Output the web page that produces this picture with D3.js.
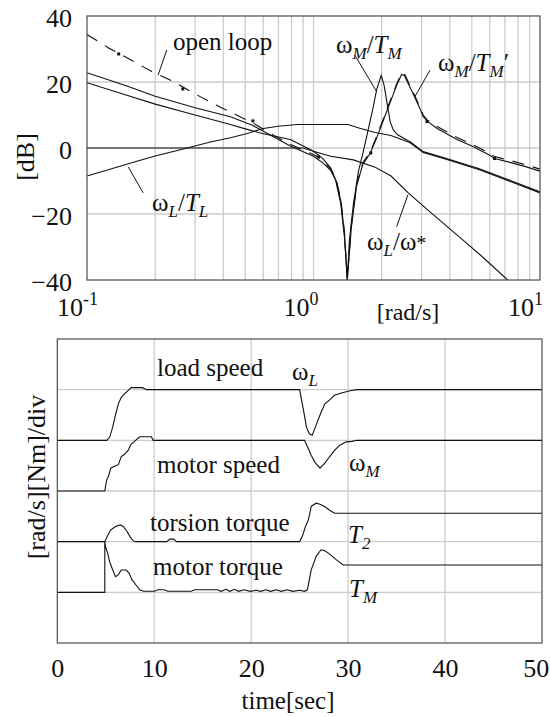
<!DOCTYPE html>
<html>
<head>
<meta charset="utf-8">
<script src="https://cdn.jsdelivr.net/npm/d3@7"></script>
<style>
body { margin: 0; background: #fff; }
svg { display: block; }
</style>
</head>
<body>
<script>
// frequency responses, [rad/s, dB]
var openLoop = [[0.1, 34.4], [0.124, 30.4], [0.155, 26.8], [0.193, 23.2], [0.24, 20.2], [0.294, 16.7], [0.367, 13.2], [0.45, 10.2], [0.54, 7.6], [0.65, 4.3], [0.79, 1.1], [1.0, -2], [1.05, -2.8], [1.1, -4], [1.19, -6.3], [1.26, -9.5], [1.32, -15.5], [1.37, -25.5], [1.41, -39.5], [1.47, -23.5], [1.55, -11], [1.65, -4.5], [1.78, -1.2], [1.9, 3.5], [2.05, 9.5], [2.2, 15], [2.33, 19.5], [2.45, 22.8], [2.52, 22.5], [2.6, 20.5], [2.75, 17], [2.95, 12.5], [3.05, 10], [3.17, 8.6], [3.5, 6.6], [4.3, 3.2], [5, 1.2], [6, -1.6], [6.3, -2.6], [7.5, -3.9], [8.5, -4.9], [10, -6.4]];
var wmTmPrime = [[0.1, 22.8], [0.15, 18.8], [0.2, 15.7], [0.3, 12.2], [0.43, 9.5], [0.54, 6.8], [0.65, 3.8], [0.79, 0.6], [1.0, -2.5], [1.1, -4.5], [1.19, -6.8], [1.26, -10], [1.32, -16], [1.37, -26], [1.41, -40], [1.47, -24], [1.55, -11.5], [1.65, -5], [1.78, -1.6], [1.9, 3], [2.05, 9], [2.2, 14.5], [2.33, 19], [2.45, 22.3], [2.52, 22], [2.6, 20], [2.75, 16.5], [2.95, 12], [3.05, 9.5], [3.2, 8], [3.5, 6], [4.3, 2.6], [5, 0.6], [6, -2.2], [6.3, -3.2], [7.5, -4.5], [8.5, -5.5], [10, -7]];
var wmTm = [[0.1, 19.8], [0.15, 16], [0.2, 13.3], [0.3, 10], [0.43, 7.1], [0.5, 5.8], [0.6, 4.3], [0.79, 2.6], [1.0, -1], [1.1, -3.2], [1.19, -6], [1.25, -9.5], [1.32, -17], [1.37, -27], [1.41, -40], [1.44, -28], [1.5, -17], [1.58, -7], [1.66, -1], [1.75, 6], [1.83, 12], [1.9, 17.7], [1.99, 22], [2.05, 19], [2.12, 13], [2.18, 8], [2.25, 5.5], [2.35, 4], [2.67, 1.9], [3.05, -1.1], [3.9, -3.3], [5.4, -6.3], [7.5, -10], [10, -13.3]];
var wlTl = [[0.1, -8.5], [0.166, -4], [0.2, -2.4], [0.277, 0], [0.35, 1.8], [0.43, 3.1], [0.51, 4.4], [0.6, 5.9], [0.7, 6.6], [0.85, 7.1], [1.42, 7.1], [1.6, 6], [1.87, 4.7], [2.2, 3.8], [2.67, 1.6], [3.05, -1.4], [3.88, -3.5], [5.4, -6.6], [7.5, -10.3], [10, -13.6]];
var wlWref = [[0.1, 0], [0.9, 0], [1.0, -1], [1.19, -2.5], [1.5, -3.6], [1.87, -5.8], [2.2, -8.5], [2.62, -13.6], [3.1, -18], [4.36, -26.7], [5.53, -32.8], [7.2, -40]];
var openLoopMarks = [[0.138, 28.5], [0.265, 17.9], [0.54, 8.2], [1.05, -2.7], [1.79, -1.5], [3.17, 8], [6.3, -3.2]];
var dbTicks = [40, 20, 0, -20, -40];
var decadeTicks = [0.1, 1, 10];
var decadeExp = ["-1", "0", "1"];

// step responses, [sec, div above the trace's own base line]
var loadSpeed = [[0, 0], [5.1, 0], [5.4, 0.06], [5.7, 0.25], [6.0, 0.5], [6.3, 0.72], [6.6, 0.85], [7.0, 0.93], [7.3, 0.98], [7.6, 1.04], [8.8, 1.04], [9.2, 1.0], [25.0, 1.0], [25.4, 0.59], [25.7, 0.26], [26.0, 0.13], [26.3, 0.1], [26.6, 0.25], [26.9, 0.4], [27.2, 0.55], [27.6, 0.72], [28.1, 0.8], [28.6, 0.89], [29.2, 0.93], [29.8, 0.96], [30.2, 0.98], [30.9, 1.0], [50, 1.0]];
var motorSpeed = [[0, 0], [4.9, 0], [5.0, 0.12], [5.1, 0.22], [5.3, 0.3], [5.5, 0.45], [6.0, 0.5], [6.3, 0.52], [6.6, 0.68], [6.9, 0.72], [7.3, 0.8], [7.6, 0.92], [7.9, 0.97], [8.5, 1.07], [9.7, 1.07], [9.9, 1.0], [25.5, 1.0], [25.8, 0.88], [26.2, 0.7], [26.6, 0.56], [27.1, 0.45], [27.6, 0.55], [28.1, 0.68], [28.6, 0.8], [29.1, 0.9], [29.8, 0.97], [30.4, 0.98], [30.9, 1.0], [50, 1.0]];
var torsionTorque = [[0, 0], [4.9, 0], [5.2, 0.12], [5.5, 0.23], [6.0, 0.3], [6.5, 0.33], [6.8, 0.3], [7.2, 0.2], [7.5, 0.1], [7.8, 0.02], [8.1, 0], [11.3, 0], [11.6, 0.05], [12.0, 0.05], [12.3, 0], [25.0, 0], [25.3, 0.12], [25.6, 0.3], [25.9, 0.43], [26.2, 0.7], [26.7, 0.76], [27.1, 0.74], [27.6, 0.69], [28.1, 0.62], [28.6, 0.56], [50, 0.56]];
var motorTorque = [[0, 0], [4.9, 0], [4.9, 1.0], [5.0, 0.88], [5.2, 0.77], [5.4, 0.6], [5.6, 0.5], [6.0, 0.31], [6.3, 0.35], [6.6, 0.44], [7.1, 0.44], [7.4, 0.38], [7.7, 0.25], [8.1, 0.15], [8.5, 0.05], [8.9, 0.02], [10.0, 0.02], [10.4, 0.05], [11.0, 0.05], [11.4, 0.02], [13.8, 0.02], [14.2, 0.05], [16.5, 0.05], [16.9, 0.02], [17.4, 0.06], [17.8, 0.02], [18.3, 0.06], [18.7, 0.02], [19.3, 0.05], [19.9, 0.02], [20.5, 0.04], [21, 0.02], [21.5, 0.05], [22, 0.02], [22.6, 0.05], [23.1, 0.02], [23.7, 0.05], [24.3, 0.02], [25, 0.04], [25.5, 0.02], [25.8, 0.05], [26.0, 0.25], [26.2, 0.45], [26.5, 0.6], [26.7, 0.71], [27.2, 0.84], [27.6, 0.82], [28.0, 0.77], [28.8, 0.64], [29.5, 0.54], [50, 0.54]];
var timeTicks = [0, 10, 20, 30, 40, 50];

var gridColor = "#cdcdcd", ink = "#111";
var serif = "Liberation Serif, DejaVu Serif, serif";

var svg = d3.select("body").append("svg").attr("width", 550).attr("height", 717)
  .attr("font-family", serif);

// ---------- upper panel: gain plot ----------
var x = d3.scaleLog().domain([0.1, 10]).range([87, 540]);
var y = d3.scaleLinear().domain([-40, 40]).range([280, 16]);
var upper = svg.append("g");

upper.append("clipPath").attr("id", "clipTop").append("rect")
  .attr("x", 87).attr("y", 16).attr("width", 453).attr("height", 264);

upper.selectAll(".vgrid").data(x.ticks().filter(function (d) { return d > 0.11 && d < 9.9; }))
  .enter().append("line")
  .attr("x1", function (d) { return x(d); }).attr("x2", function (d) { return x(d); })
  .attr("y1", 16).attr("y2", 280)
  .attr("stroke", gridColor).attr("stroke-width", 1.3);
upper.selectAll(".hgrid").data(dbTicks.slice(1, 4)).enter().append("line")
  .attr("x1", 87).attr("x2", 540)
  .attr("y1", function (d) { return y(d); }).attr("y2", function (d) { return y(d); })
  .attr("stroke", gridColor).attr("stroke-width", 1.3);

var yAxis = d3.axisLeft(y).tickValues(dbTicks).tickSize(0).tickPadding(15);
upper.append("g").attr("transform", "translate(87,0)").call(yAxis)
  .attr("font-size", 26).attr("font-family", serif)
  .call(function (g) { g.select(".domain").remove(); })
  .selectAll("text").attr("dy", "0.42em").attr("fill", ink);

// decade labels 10^n, the base sits just left of its grid line
upper.selectAll(".xlab").data(decadeTicks).enter().append("text")
  .attr("x", function (d, i) { return x(d) - (i === 2 ? 32 : 30); }).attr("y", 316)
  .attr("font-size", 26).attr("fill", ink)
  .each(function (d, i) {
    var t = d3.select(this);
    t.append("tspan").text("10");
    t.append("tspan").attr("font-size", 18).attr("dy", -11).text(decadeExp[i]);
  });

upper.append("text").attr("x", 408).attr("y", 320).attr("text-anchor", "middle")
  .attr("font-size", 24).attr("fill", ink).text("[rad/s]");
upper.append("text").attr("transform", "translate(34,157) rotate(-90)").attr("text-anchor", "middle")
  .attr("font-size", 26).attr("fill", ink).text("[dB]");

var gain = d3.line().x(function (d) { return x(d[0]); }).y(function (d) { return y(d[1]); });
var curves = upper.append("g").attr("clip-path", "url(#clipTop)")
  .attr("fill", "none").attr("stroke", ink).attr("stroke-width", 1.1);
curves.append("path").attr("d", gain(wlWref));
curves.append("path").attr("d", gain(wlTl));
curves.append("path").attr("d", gain(wmTm));
curves.append("path").attr("d", gain(wmTmPrime));
curves.append("path").attr("d", gain(openLoop)).attr("stroke-dasharray", "12,9");

upper.selectAll(".mark").data(openLoopMarks).enter().append("rect")
  .attr("x", function (d) { return x(d[0]) - 1.5; }).attr("y", function (d) { return y(d[1]) - 1.5; })
  .attr("width", 3).attr("height", 3).attr("fill", ink);

upper.append("rect").attr("x", 87).attr("y", 16).attr("width", 453).attr("height", 264)
  .attr("fill", "none").attr("stroke", "#4d4d4d").attr("stroke-width", 1.2);

// leader lines, ends given as [rad/s, dB]
var leaders = [
  [[0.225, 29.7], [0.206, 22.1]],
  [[1.52, 28.2], [1.9, 17.1]],
  [[3.27, 23.6], [2.8, 15.5]],
  [[0.152, -5.7], [0.177, -13.6]],
  [[2.61, -14.2], [2.33, -23.8]]
];
upper.selectAll(".leader").data(leaders).enter().append("path")
  .attr("d", gain).attr("fill", "none").attr("stroke", ink).attr("stroke-width", 1);

function mathLabel(g, px, py, parts, size) {
  var t = g.append("text").attr("x", px).attr("y", py).attr("font-size", size).attr("fill", ink);
  parts.forEach(function (p) {
    var s = t.append("tspan").text(p[0]);
    if (p[1] === "sub") s.attr("y", py + 6).attr("font-size", size * 0.68).attr("font-style", "italic");
    else if (p[1] === "it") s.attr("y", py).attr("font-style", "italic");
    else if (p[1] === "small") s.attr("y", py).attr("font-size", size * 0.8);
    else s.attr("y", py);
  });
  return t;
}

upper.append("text").attr("x", 173).attr("y", 50).attr("font-size", 25).attr("fill", ink).text("open loop");
mathLabel(upper, 336, 53, [["ω"], ["M", "sub"], ["/"], ["T", "it"], ["M", "sub"]], 25);
mathLabel(upper, 438, 71, [["ω"], ["M", "sub"], ["/"], ["T", "it"], ["M", "sub"], ["′"]], 25);
mathLabel(upper, 152, 211, [["ω"], ["L", "sub"], ["/"], ["T", "it"], ["L", "sub"]], 25);
mathLabel(upper, 367, 250, [["ω"], ["L", "sub"], ["/ω"], ["*", "small"]], 25);

// ---------- lower panel: time responses ----------
var x2 = d3.scaleLinear().domain([0, 50]).range([57.3, 542]);
var y2 = d3.scaleLinear().domain([0, 6]).range([643, 339]);
var lower = svg.append("g");

lower.selectAll(".vgrid").data(timeTicks.slice(1, 5)).enter().append("line")
  .attr("x1", function (d) { return x2(d); }).attr("x2", function (d) { return x2(d); })
  .attr("y1", 339).attr("y2", 643)
  .attr("stroke", gridColor).attr("stroke-width", 1.3);
lower.selectAll(".hgrid").data([1, 2, 3, 4, 5]).enter().append("line")
  .attr("x1", 57.3).attr("x2", 542)
  .attr("y1", function (d) { return y2(d); }).attr("y2", function (d) { return y2(d); })
  .attr("stroke", gridColor).attr("stroke-width", 1.3);

var xAxis = d3.axisBottom(x2).tickValues(timeTicks).tickSize(0).tickPadding(16);
lower.append("g").attr("transform", "translate(0,643)").call(xAxis)
  .attr("font-size", 26).attr("font-family", serif)
  .call(function (g) { g.select(".domain").remove(); })
  .selectAll("text").attr("fill", ink)
  .filter(function (d) { return d === 50; }).attr("text-anchor", "end").attr("dx", "0.26em");

lower.append("text").attr("x", 288).attr("y", 709).attr("text-anchor", "middle")
  .attr("font-size", 25).attr("fill", ink).text("time[sec]");
lower.append("text").attr("transform", "translate(45,477) rotate(-90)").attr("text-anchor", "middle")
  .attr("font-size", 26).attr("fill", ink).text("[rad/s][Nm]/div");

function trace(data, base) {
  return d3.line().x(function (d) { return x2(d[0]); }).y(function (d) { return y2(base + d[1]); })(data);
}
var traces = lower.append("g").attr("fill", "none").attr("stroke", ink).attr("stroke-width", 1.1);
traces.append("path").attr("d", trace(loadSpeed, 4));
traces.append("path").attr("d", trace(motorSpeed, 3));
traces.append("path").attr("d", trace(torsionTorque, 2));
traces.append("path").attr("d", trace(motorTorque, 1));

lower.append("rect").attr("x", 57.3).attr("y", 339).attr("width", 484.7).attr("height", 304)
  .attr("fill", "none").attr("stroke", "#4d4d4d").attr("stroke-width", 1.2);

lower.append("text").attr("x", 157).attr("y", 376).attr("font-size", 25).attr("fill", ink).text("load speed");
lower.append("text").attr("x", 157).attr("y", 473).attr("font-size", 25).attr("fill", ink).text("motor speed");
lower.append("text").attr("x", 150).attr("y", 531).attr("font-size", 25).attr("fill", ink).text("torsion torque");
lower.append("text").attr("x", 153).attr("y", 575).attr("font-size", 25).attr("fill", ink).text("motor torque");
mathLabel(lower, 292, 380, [["ω"], ["L", "sub"]], 25);
mathLabel(lower, 349, 471, [["ω"], ["M", "sub"]], 25);
mathLabel(lower, 348, 543, [["T", "it"], ["2", "sub"]], 25);
mathLabel(lower, 349, 597, [["T", "it"], ["M", "sub"]], 25);
</script>
</body>
</html>
